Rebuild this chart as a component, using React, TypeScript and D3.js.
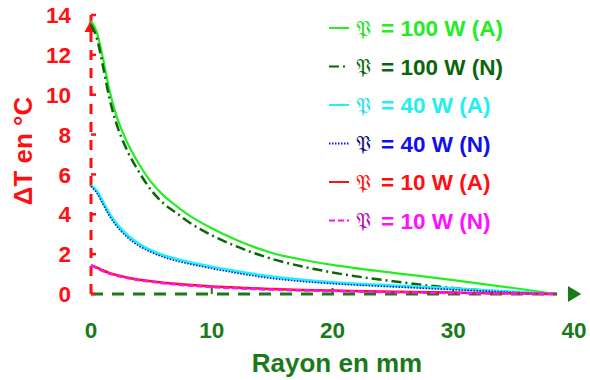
import React from "react";
import * as d3 from "d3";

const radius = [0, 0.5, 1, 1.5, 2, 3, 4, 5, 6, 7, 8, 10, 12, 15, 17.5, 20, 25, 30, 35, 38.5];
const p100A = [13.7, 13.1, 11.8, 10.3, 9.15, 7.6, 6.5, 5.6, 4.95, 4.45, 4.0, 3.3, 2.72, 2.06, 1.72, 1.46, 1.06, 0.7, 0.3, 0.0];
const p100N = [13.5, 12.8, 11.4, 9.9, 8.75, 7.2, 6.1, 5.2, 4.55, 4.1, 3.65, 2.95, 2.4, 1.76, 1.38, 1.08, 0.64, 0.3, 0.08, 0.0];
const p40A = [5.45, 5.15, 4.6, 4.05, 3.6, 2.95, 2.5, 2.18, 1.94, 1.76, 1.61, 1.36, 1.14, 0.86, 0.7, 0.58, 0.42, 0.27, 0.1, 0.0];
const p40N = [5.4, 5.05, 4.5, 3.95, 3.5, 2.85, 2.4, 2.09, 1.85, 1.67, 1.53, 1.28, 1.06, 0.78, 0.63, 0.52, 0.36, 0.22, 0.08, 0.0];
const p10A = [1.45, 1.32, 1.18, 1.06, 0.97, 0.83, 0.72, 0.64, 0.57, 0.51, 0.46, 0.38, 0.32, 0.25, 0.2, 0.17, 0.11, 0.07, 0.03, 0.0];
const p10N = [1.42, 1.29, 1.15, 1.03, 0.94, 0.8, 0.69, 0.61, 0.54, 0.48, 0.43, 0.35, 0.29, 0.22, 0.18, 0.15, 0.09, 0.05, 0.02, 0.0];

const xTicks = [0, 10, 20, 30, 40];
const yTicks = [0, 2, 4, 6, 8, 10, 12, 14];
const legendLabels = ["= 100 W (A)", "= 100 W (N)", "= 40 W (A)", "= 40 W (N)", "= 10 W (A)", "= 10 W (N)"];

const series = [
  { values: p100A, color: "#22ee22", sym: "#22dd22", dash: "", width: 2.2 },
  { values: p100N, color: "#0b650b", sym: "#0b650b", dash: "10,4,2,4", width: 2.5 },
  { values: p40A, color: "#22f0f0", sym: "#22e0f0", dash: "", width: 3 },
  { values: p40N, color: "#1010ee", sym: "#101080", dash: "1.5,1.5", width: 1.6 },
  { values: p10A, color: "#ff1010", sym: "#ff1010", dash: "", width: 2.5 },
  { values: p10N, color: "#ff10ff", sym: "#b010b0", dash: "6,3", width: 2.5 },
];

const FONT = "'Liberation Sans', Arial, sans-serif";
const AX_GREEN = "#1a7a1a";

export default function App() {
  const x = d3.scaleLinear().domain([0, 40]).range([91, 574]);
  const y = d3.scaleLinear().domain([0, 14]).range([294, 15]);
  const line = d3
    .line<number>()
    .x((_, i) => x(radius[i]))
    .y((d) => y(d))
    .curve(d3.curveMonotoneX);

  const legendY = (i: number) => 28 + i * 38.5;

  return (
    <svg width={590} height={380} style={{ position: "absolute", left: 0, top: 0, background: "#fff" }} fontFamily={FONT}>
      {/* axes */}
      <line x1={x(0)} x2={x(38.6)} y1={y(0)} y2={y(0)} stroke={AX_GREEN} strokeWidth={3} strokeDasharray="12,9" />
      <path d={`M${x(39.5)},${y(0) - 8} L${x(40.6)},${y(0)} L${x(39.5)},${y(0) + 8} Z`} fill={AX_GREEN} />
      {xTicks.slice(1, 4).map((t) => (
        <line key={t} x1={x(t)} x2={x(t)} y1={y(0)} y2={y(0) - 6} stroke={AX_GREEN} strokeWidth={2} />
      ))}
      <line x1={x(0)} x2={x(0)} y1={y(0)} y2={y(14)} stroke="#ff1010" strokeWidth={3} strokeDasharray="10,8" />
      <path d={`M${x(0) - 6.5},${y(13.15)} L${x(0)},${y(13.75)} L${x(0) + 6.5},${y(13.15)} Z`} fill="#ff1010" />
      {yTicks.map((t) => (
        <line key={t} x1={x(0)} x2={x(0) + 5} y1={y(t)} y2={y(t)} stroke="#ff1010" strokeWidth={2.5} />
      ))}

      {/* curves */}
      {series.map((s, i) => (
        <path key={i} d={line(s.values) || ""} fill="none" stroke={s.color} strokeWidth={s.width} strokeDasharray={s.dash || undefined} />
      ))}

      {/* tick labels */}
      {yTicks.map((t) => (
        <text key={t} x={71} y={y(t)} dy="0.36em" textAnchor="end" fontSize={22.5} fontWeight="bold" fill="#ff1010">
          {t}
        </text>
      ))}
      {xTicks.map((t) => (
        <text key={t} x={x(t)} y={330} dy="0.36em" textAnchor="middle" fontSize={22.5} fontWeight="bold" fill={AX_GREEN}>
          {t}
        </text>
      ))}

      {/* titles */}
      <text x={337} y={372} textAnchor="middle" fontSize={26} fontWeight="bold" fill={AX_GREEN}>
        Rayon en mm
      </text>
      <text transform="translate(32,151) rotate(-90)" textAnchor="middle" fontSize={26} fontWeight="bold" fill="#ff1010">
        ΔT en °C
      </text>

      {/* legend */}
      {series.map((s, i) => (
        <g key={i}>
          <line x1={329} x2={349} y1={legendY(i)} y2={legendY(i)} stroke={s.color} strokeWidth={2} strokeDasharray={s.dash || undefined} />
          <text x={356} y={legendY(i) + 7.5} fontSize={21} fill={s.sym} fontFamily="'DejaVu Sans', serif">
            𝔓
          </text>
          <text x={381} y={legendY(i) + 8} fontSize={22.5} fontWeight="bold" fill={s.color}>
            {legendLabels[i]}
          </text>
        </g>
      ))}
    </svg>
  );
}
